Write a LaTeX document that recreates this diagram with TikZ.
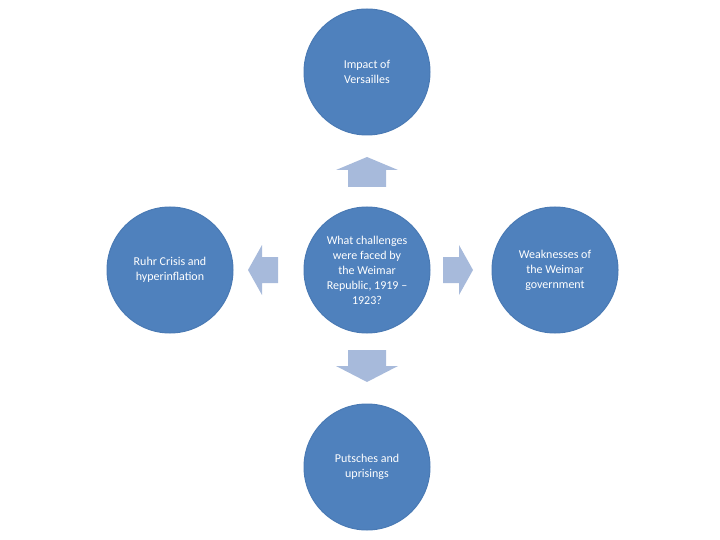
\documentclass[tikz,border=0pt]{standalone}
\usepackage{fontspec}
\setmainfont{Carlito}
\begin{document}
\begin{tikzpicture}[x=1pt,y=-1pt,
  circ/.style={circle,fill=blue1,draw=blue2,line width=1pt,minimum size=126pt,inner sep=0pt,text=white,align=center,font=\fontsize{12}{15}\selectfont},
  arr/.style={fill=arrowc,draw=none}]
\definecolor{blue1}{HTML}{4F81BD}
\definecolor{blue2}{HTML}{4A7AB4}
\definecolor{arrowc}{HTML}{A7BADB}
\useasboundingbox (0,0) rectangle (720,540);
\node[circ] (c) at (367,270) {What challenges\\were faced by\\the Weimar\\Republic, 1919 –\\1923?};
\node[circ] (t) at (367,72) {Impact of\\Versailles};
\node[circ] (b) at (367,467) {Putsches and\\uprisings};
\node[circ] (l) at (170,270) {Ruhr Crisis and\\hyperinflation};
\node[circ] (r) at (555,270) {Weaknesses of\\the Weimar\\government};
\fill[arr] (348,187) -- (348,170) -- (336,170) -- (367,157) -- (398,170) -- (386,170) -- (386,187) -- cycle;
\fill[arr] (348,350) -- (348,366) -- (336,366) -- (367,382) -- (398,366) -- (386,366) -- (386,350) -- cycle;
\fill[arr] (278,257) -- (262,257) -- (262,245) -- (248,270) -- (262,295) -- (262,283) -- (278,283) -- cycle;
\fill[arr] (443,257) -- (459,257) -- (459,245) -- (473,270) -- (459,295) -- (459,283) -- (443,283) -- cycle;
\end{tikzpicture}
\end{document}
